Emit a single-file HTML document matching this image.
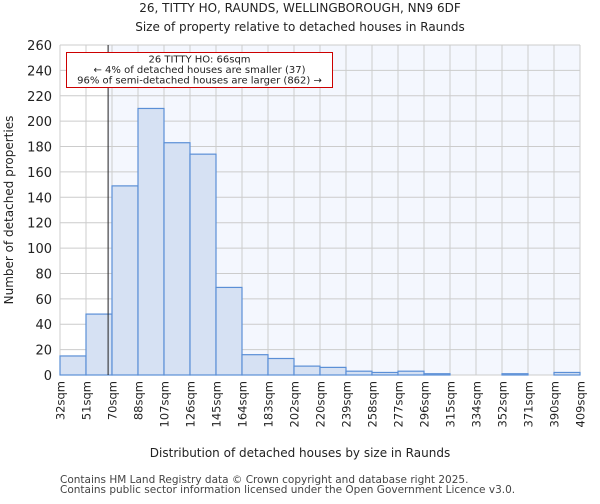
<!DOCTYPE html>
<html><head><meta charset="utf-8"><style>
body{margin:0;background:#fff;font-family:"DejaVu Sans","Liberation Sans",sans-serif}
</style></head><body>
<svg width="600" height="500" font-family="DejaVu Sans, Liberation Sans, sans-serif">
<text x="300" y="12" text-anchor="middle" font-size="12" fill="#222">26, TITTY HO, RAUNDS, WELLINGBOROUGH, NN9 6DF</text>
<text x="300" y="31" text-anchor="middle" font-size="12" fill="#222">Size of property relative to detached houses in Raunds</text>
<g id="plot"></g>
<text x="300" y="457" text-anchor="middle" font-size="12" fill="#222">Distribution of detached houses by size in Raunds</text>
<text transform="translate(13,210) rotate(-90)" text-anchor="middle" font-size="12" fill="#222">Number of detached properties</text>
<text x="60" y="483" font-size="10.5" fill="#444">Contains HM Land Registry data © Crown copyright and database right 2025.</text>
<text x="60" y="493" font-size="10.5" fill="#444">Contains public sector information licensed under the Open Government Licence v3.0.</text>
</svg>
<script>
const edges=["32sqm","51sqm","70sqm","88sqm","107sqm","126sqm","145sqm","164sqm","183sqm","202sqm","220sqm","239sqm","258sqm","277sqm","296sqm","315sqm","334sqm","352sqm","371sqm","390sqm","409sqm"];
const counts=[15,48,149,210,183,174,69,16,13,7,6,3,2,3,1,0,0,1,0,2];
const yTicks=[0,20,40,60,80,100,120,140,160,180,200,220,240,260];
const propertyPos=[1.85];
const NS="http://www.w3.org/2000/svg";
const L=60,R=580,T=45,B=375,YMAX=260;
const g=document.getElementById('plot');
const bw=(R-L)/counts.length;
const x=i=>L+i*bw;
const y=v=>B-(v/YMAX)*(B-T);
function mk(t,a){const e=document.createElementNS(NS,t);for(const k in a)e.setAttribute(k,a[k]);g.appendChild(e);return e;}
let e;
e=mk('rect',{x:L,y:T,width:R-L,height:B-T,fill:'#f4f7fe'});


e=mk('rect',{x:L,y:T,width:x(propertyPos[0])-L,height:B-T,fill:'#ffffff'});


yTicks.forEach(v=>{
e=mk('line',{x1:L,x2:R,y1:y(v),y2:y(v),stroke:'#cccccc','stroke-width':1});


e=mk('text',{x:L-8,y:y(v)+5,'text-anchor':'end','font-size':13,fill:'#222'});e.textContent=v;


});
edges.forEach((s,i)=>{
e=mk('line',{x1:x(i),x2:x(i),y1:T,y2:B,stroke:'#cccccc','stroke-width':1});


e=mk('text',{transform:`translate(${x(i)+4.5},${B+6}) rotate(-90)`,'text-anchor':'end','font-size':11.5,fill:'#222'});e.textContent=s;


});
counts.forEach((c,i)=>{
e=mk('rect',{x:x(i),y:y(c),width:bw,height:B-y(c),fill:'#d6e1f3',stroke:'#5b8fd6','stroke-width':1.2});


});
e=mk('line',{x1:x(propertyPos[0]),x2:x(propertyPos[0]),y1:T,y2:B,stroke:'#222','stroke-width':1});


e=mk('rect',{x:66.5,y:52.5,width:266,height:35,fill:'#fff',stroke:'#cc0000','stroke-width':1});


["26 TITTY HO: 66sqm","← 4% of detached houses are smaller (37)","96% of semi-detached houses are larger (862) →"].forEach((t,i)=>{
e=mk('text',{x:199.5,y:62.5+i*10.5,'text-anchor':'middle','font-size':10,fill:'#222'});e.textContent=t;


});
</script>
</body></html>
